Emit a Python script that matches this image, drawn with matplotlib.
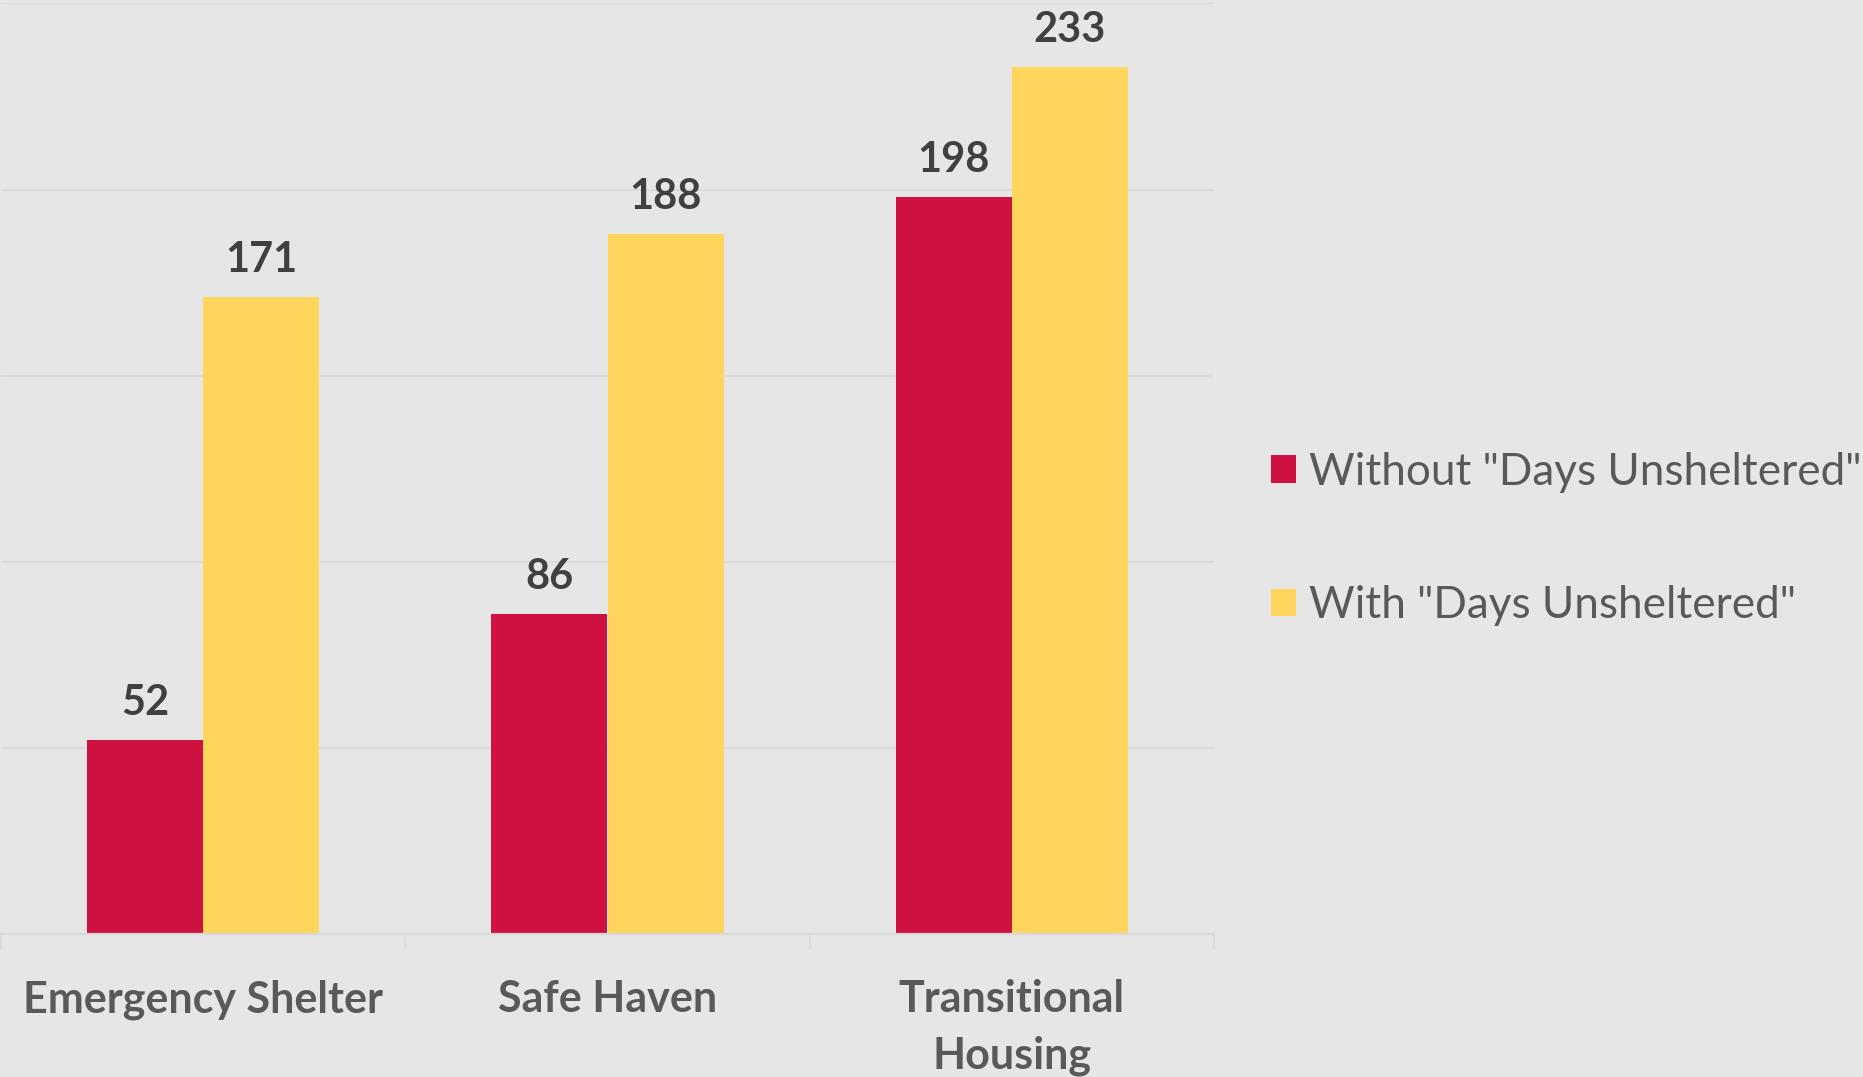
import matplotlib
matplotlib.use("Agg")
import matplotlib.pyplot as plt
import numpy as np

categories = ["Emergency Shelter", "Safe Haven", "Transitional\nHousing"]
series_names = ['Without "Days Unsheltered"', 'With "Days Unsheltered"']
without_vals = [52, 86, 198]
with_vals = [171, 188, 233]

BG = "#E6E6E6"
GRID = "#D9D9D9"
RED = "#CF1141"
YELLOW = "#FFD55C"
plt.rcParams["font.family"] = ["Lato", "DejaVu Sans"]

W, H = 1863, 1077
fig = plt.figure(figsize=(W / 100, H / 100), dpi=100, facecolor=BG)
ax = fig.add_axes([1 / W, (H - 934) / H, 1213 / W, (934 - 3.4) / H], facecolor=BG)

x = np.arange(len(categories))
bw = 0.287
b1 = ax.bar(x - bw / 2, without_vals, bw, color=RED, label=series_names[0], zorder=3)
b2 = ax.bar(x + bw / 2, with_vals, bw, color=YELLOW, label=series_names[1], zorder=3)

for bars, vals in ((b1, without_vals), (b2, with_vals)):
    for rect, v in zip(bars, vals):
        ax.annotate(str(v), (rect.get_x() + rect.get_width() / 2, rect.get_height()),
                    xytext=(0, 18), textcoords="offset points", ha="center", va="baseline",
                    fontsize=30, fontweight="bold", color="#404040", zorder=4)

ax.set_xlim(-0.5, 2.5)
ax.set_ylim(0, 250)
ax.set_yticks(np.arange(0, 251, 50))
ax.yaxis.grid(True, color=GRID, linewidth=1.2, zorder=0)
ax.tick_params(axis="y", left=False, labelleft=False)
ax.set_xticks(x)
ax.set_xticklabels(categories, fontsize=31, fontweight="bold", color="#595959", linespacing=1.5)
ax.tick_params(axis="x", which="major", length=0, pad=32.5)
ax.set_xticks([-0.5, 0.5, 1.5, 2.5], minor=True)
ax.tick_params(axis="x", which="minor", length=11, width=1.2, color=GRID)
for s in ("left", "right", "top"):
    ax.spines[s].set_visible(False)
ax.spines["bottom"].set_color(GRID)
ax.spines["bottom"].set_linewidth(1.6)
ax.spines["bottom"].set_zorder(5)

leg = fig.legend(handles=[b1, b2], labels=series_names, loc="center left",
                 bbox_to_anchor=(1271 / W, 1 - 539 / H), frameon=False,
                 fontsize=31.8, handlelength=0.57, handleheight=0.57, handletextpad=0.29,
                 labelspacing=2.1, borderpad=0, borderaxespad=0)
for t in leg.get_texts():
    t.set_color("#595959")

fig.savefig("out.png", dpi=100, facecolor=BG)
